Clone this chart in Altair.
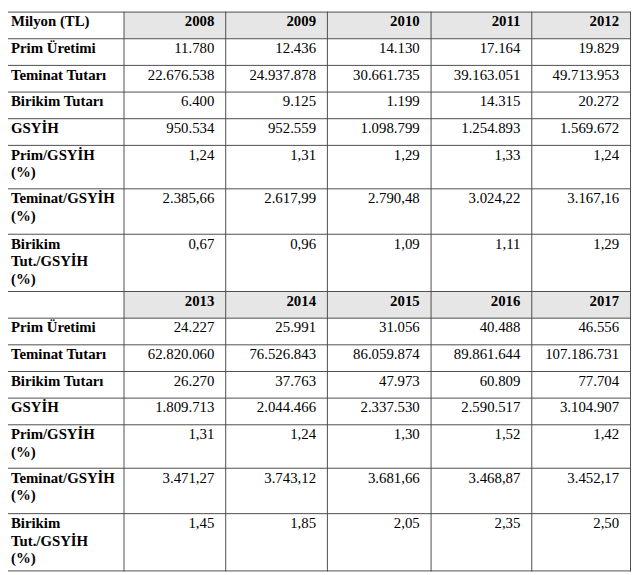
import altair as alt
import pandas as pd

# ---------------- data ----------------
years = ["2008", "2009", "2010", "2011", "2012", "2013", "2014", "2015", "2016", "2017"]
row_labels = [
    "Prim Üretimi",
    "Teminat Tutarı",
    "Birikim Tutarı",
    "GSYİH",
    "Prim/GSYİH\n(%)",
    "Teminat/GSYİH\n(%)",
    "Birikim\nTut./GSYİH\n(%)",
]
prim_uretimi = [11780, 12436, 14130, 17164, 19829, 24227, 25991, 31056, 40488, 46556]
teminat_tutari = [22676538, 24937878, 30661735, 39163051, 49713953,
                  62820060, 76526843, 86059874, 89861644, 107186731]
birikim_tutari = [6400, 9125, 1199, 14315, 20272, 26270, 37763, 47973, 60809, 77704]
gsyih = [950534, 952559, 1098799, 1254893, 1569672,
         1809713, 2044466, 2337530, 2590517, 3104907]
prim_gsyih = [1.24, 1.31, 1.29, 1.33, 1.24, 1.31, 1.24, 1.30, 1.52, 1.42]
teminat_gsyih = [2385.66, 2617.99, 2790.48, 3024.22, 3167.16,
                 3471.27, 3743.12, 3681.66, 3468.87, 3452.17]
birikim_gsyih = [0.67, 0.96, 1.09, 1.11, 1.29, 1.45, 1.85, 2.05, 2.35, 2.50]
corner_label = "Milyon (TL)"

series = [
    (prim_uretimi, "int"),
    (teminat_tutari, "int"),
    (birikim_tutari, "int"),
    (gsyih, "int"),
    (prim_gsyih, "dec"),
    (teminat_gsyih, "dec"),
    (birikim_gsyih, "dec"),
]


def fmt_tr(v, kind):
    if kind == "int":
        return f"{int(v):,}".replace(",", ".")
    s = f"{v:,.2f}"
    return s.replace(",", "X").replace(".", ",").replace("X", ".")


# ---------------- layout ----------------
W, H = 631, 567
col_edges = [0, 117, 220, 323, 428, 530, 630]      # vertical line positions
row_heights = [27, 27, 27, 27, 27, 44, 46, 58]      # per block (header + 7 rows)
block_top = [0, sum(row_heights)]
pad_left, pad_right, base_off, line_h = 3, 11, 15, 18
FONT = "Liberation Serif"
FS = 15
LINE = "#4d4d4d"
HEAD_FILL = "#e6e6e6"

row_tops = []
for bt in block_top:
    y = bt
    tops = []
    for h in row_heights:
        tops.append(y)
        y += h
    row_tops.append(tops)
table_bottom = block_top[1] + sum(row_heights)

fills, hlines, vlines = [], [], []
left_texts, right_bold, right_norm = [], [], []

for b in range(2):
    tops = row_tops[b]
    fills.append({"x": col_edges[1] + 0.5, "x2": col_edges[-1] + 0.5,
                  "y": tops[0] + 0.5, "y2": tops[1] + 0.5})
    for t in tops:
        hlines.append({"x": 0, "x2": col_edges[-1] + 1, "y": t + 0.5})
    if b == 0:
        left_texts.append({"x": pad_left, "y": tops[0] + base_off, "t": corner_label})
    for j in range(5):
        yr = years[b * 5 + j]
        right_bold.append({"x": col_edges[j + 2] - pad_right, "y": tops[0] + base_off, "t": yr})
    for r, lab in enumerate(row_labels):
        ty = tops[r + 1] + base_off
        left_texts.append({"x": pad_left, "y": ty, "t": lab})
        vals, kind = series[r]
        for j in range(5):
            right_norm.append({"x": col_edges[j + 2] - pad_right, "y": ty,
                               "t": fmt_tr(vals[b * 5 + j], kind)})

hlines.append({"x": 0, "x2": col_edges[-1] + 1, "y": table_bottom + 0.5})
for c in col_edges[1:]:
    vlines.append({"x": c + 0.5, "y": 0, "y2": table_bottom + 1})

xs = alt.Scale(domain=[0, W], nice=False, zero=False)
ys = alt.Scale(domain=[0, H], nice=False, zero=False, reverse=True)

fill_layer = alt.Chart(pd.DataFrame(fills)).mark_rect(color=HEAD_FILL).encode(
    x=alt.X("x:Q", scale=xs, axis=None), x2="x2:Q",
    y=alt.Y("y:Q", scale=ys, axis=None), y2="y2:Q")

h_layer = alt.Chart(pd.DataFrame(hlines)).mark_rule(color=LINE, strokeWidth=1).encode(
    x=alt.X("x:Q", scale=xs, axis=None), x2="x2:Q",
    y=alt.Y("y:Q", scale=ys, axis=None))

v_layer = alt.Chart(pd.DataFrame(vlines)).mark_rule(color=LINE, strokeWidth=1).encode(
    x=alt.X("x:Q", scale=xs, axis=None),
    y=alt.Y("y:Q", scale=ys, axis=None), y2="y2:Q")


def text_layer(rows, align, weight):
    return alt.Chart(pd.DataFrame(rows)).mark_text(
        align=align, baseline="alphabetic", font=FONT, fontSize=FS,
        fontWeight=weight, color="#000000", lineBreak="\n", lineHeight=line_h
    ).encode(
        x=alt.X("x:Q", scale=xs, axis=None),
        y=alt.Y("y:Q", scale=ys, axis=None),
        text="t:N")


chart = alt.layer(
    fill_layer, h_layer, v_layer,
    text_layer(left_texts, "left", "bold"),
    text_layer(right_bold, "right", "bold"),
    text_layer(right_norm, "right", "normal"),
).properties(
    width=W, height=H, padding=0, autosize="none", background="white"
).configure_view(strokeWidth=0)

chart.save("out.html", embed_options={"renderer": "svg", "actions": False})
